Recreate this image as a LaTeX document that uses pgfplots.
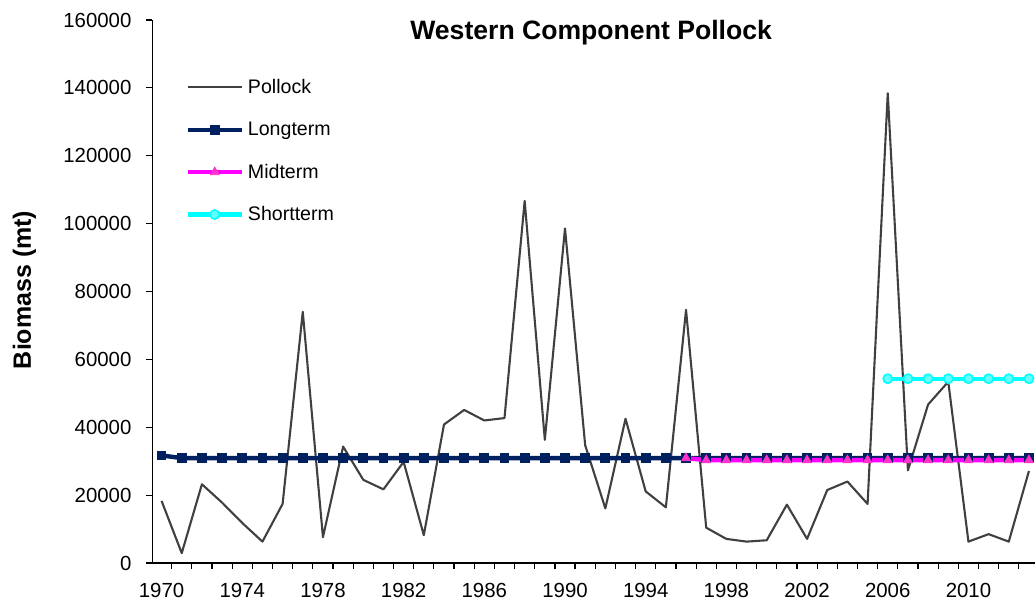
\documentclass[border=0pt]{standalone}
\usepackage{pgfplots}
\pgfplotsset{compat=1.18}
\usepackage{fontspec}
\setmainfont{Liberation Sans}
\definecolor{pollock}{HTML}{404040}
\definecolor{navy}{HTML}{002060}
\definecolor{mag}{HTML}{FF00FF}
\definecolor{magmark}{HTML}{FF33CC}
\definecolor{cyanl}{HTML}{00FFFF}
\definecolor{cyanm}{HTML}{66FFFF}
\begin{document}
\begin{tikzpicture}
\begin{axis}[name=ax,
  scale only axis, width=441.25pt, height=271.5pt,
  xmin=1969.55, xmax=2013.3, ymin=0, ymax=160000,
  axis lines*=left,
  axis line style={black, line width=0.8pt, -},
  /pgf/number format/.cd, 1000 sep={}, fixed, assume math mode=true, /pgfplots/.cd,
  scaled y ticks=false,
  xtick={1970,1974,...,2010},
  minor xtick={1969.5,1970.5,...,2012.5},
  major x tick style={draw=none},
  ytick={0,20000,...,160000},
  tick align=outside,
  major tick length=3pt, minor tick length=3pt,
  tick style={black, line width=0.6pt},
  minor tick style={black, line width=0.6pt},
  tick label style={font=\fontsize{10.2}{12}\selectfont},
  xticklabel style={yshift=-3.5pt},
  yticklabel style={xshift=-4pt},
  ylabel={Biomass (mt)},
  ylabel style={at={(-0.145,0.503)}, anchor=center, font=\bfseries\fontsize{12.5}{14}\selectfont},
  legend style={draw=none, fill=none, at={(0.037,0.757)}, anchor=west, inner sep=0pt,
    row sep=12pt, font=\fontsize{9.8}{11}\selectfont,
    nodes={inner sep=0pt, text height=7.2pt, text depth=2pt}},
  legend cell align=left,
  legend image code/.code={\draw[mark repeat=2,mark phase=2,#1] plot coordinates {(0pt,0.5pt) (13.5pt,0.5pt) (27pt,0.5pt)}; \path (29pt,0.5pt);},
]
\addplot[color=pollock, line width=1.05pt, line join=round, mark=none] table {
1970 18300
1971 2900
1972 23200
1973 17800
1974 11800
1975 6300
1976 17400
1977 74000
1978 7600
1979 34300
1980 24500
1981 21700
1982 29800
1983 8200
1984 40800
1985 45100
1986 42000
1987 42700
1988 106700
1989 36300
1990 98600
1991 34700
1992 16100
1993 42500
1994 21100
1995 16400
1996 74600
1997 10400
1998 7100
1999 6300
2000 6700
2001 17200
2002 7100
2003 21500
2004 24000
2005 17400
2006 138400
2007 27300
2008 46700
2009 53400
2010 6300
2011 8500
2012 6300
2013 27100
};
\addlegendentry{Pollock}
\addplot[color=navy, line width=2.2pt, mark=square*, mark size=2.2pt, mark options={fill=navy, draw=navy, line width=0.5pt}] table {
1970 31700
1971 30900
1972 30900
1973 30900
1974 30900
1975 30900
1976 30900
1977 30900
1978 30900
1979 30900
1980 30900
1981 30900
1982 30900
1983 30900
1984 30900
1985 30900
1986 30900
1987 30900
1988 30900
1989 30900
1990 30900
1991 30900
1992 30900
1993 30900
1994 30900
1995 30900
1996 30900
1997 30900
1998 30900
1999 30900
2000 30900
2001 30900
2002 30900
2003 30900
2004 30900
2005 30900
2006 30900
2007 30900
2008 30900
2009 30900
2010 30900
2011 30900
2012 30900
2013 30900
};
\addlegendentry{Longterm}
\addplot[color=mag, line width=2.2pt, mark=triangle*, mark size=2.6pt, mark options={fill=magmark, draw=magmark, line width=0.3pt}] table {
1996 30900
1997 30300
1998 30300
1999 30300
2000 30300
2001 30300
2002 30300
2003 30300
2004 30300
2005 30300
2006 30300
2007 30300
2008 30300
2009 30300
2010 30300
2011 30300
2012 30300
2013 30300
};
\addlegendentry{Midterm}
\addplot[color=cyanl, line width=2.2pt, mark=*, mark size=2.3pt, mark options={fill=cyanm, draw=cyanl, line width=0.8pt}] table {
2006 54300
2007 54300
2008 54300
2009 54300
2010 54300
2011 54300
2012 54300
2013 54300
};
\addlegendentry{Shortterm}
\node[anchor=center, font=\bfseries\fontsize{13.3}{15}\selectfont] at (rel axis cs:0.497,0.976) {Western Component Pollock};
\end{axis}
\pgfresetboundingbox
\path ([shift={(-76.25pt,-18.5pt)}]ax.south west) rectangle ([shift={(0pt,10pt)}]ax.north east);
\end{tikzpicture}
\end{document}
